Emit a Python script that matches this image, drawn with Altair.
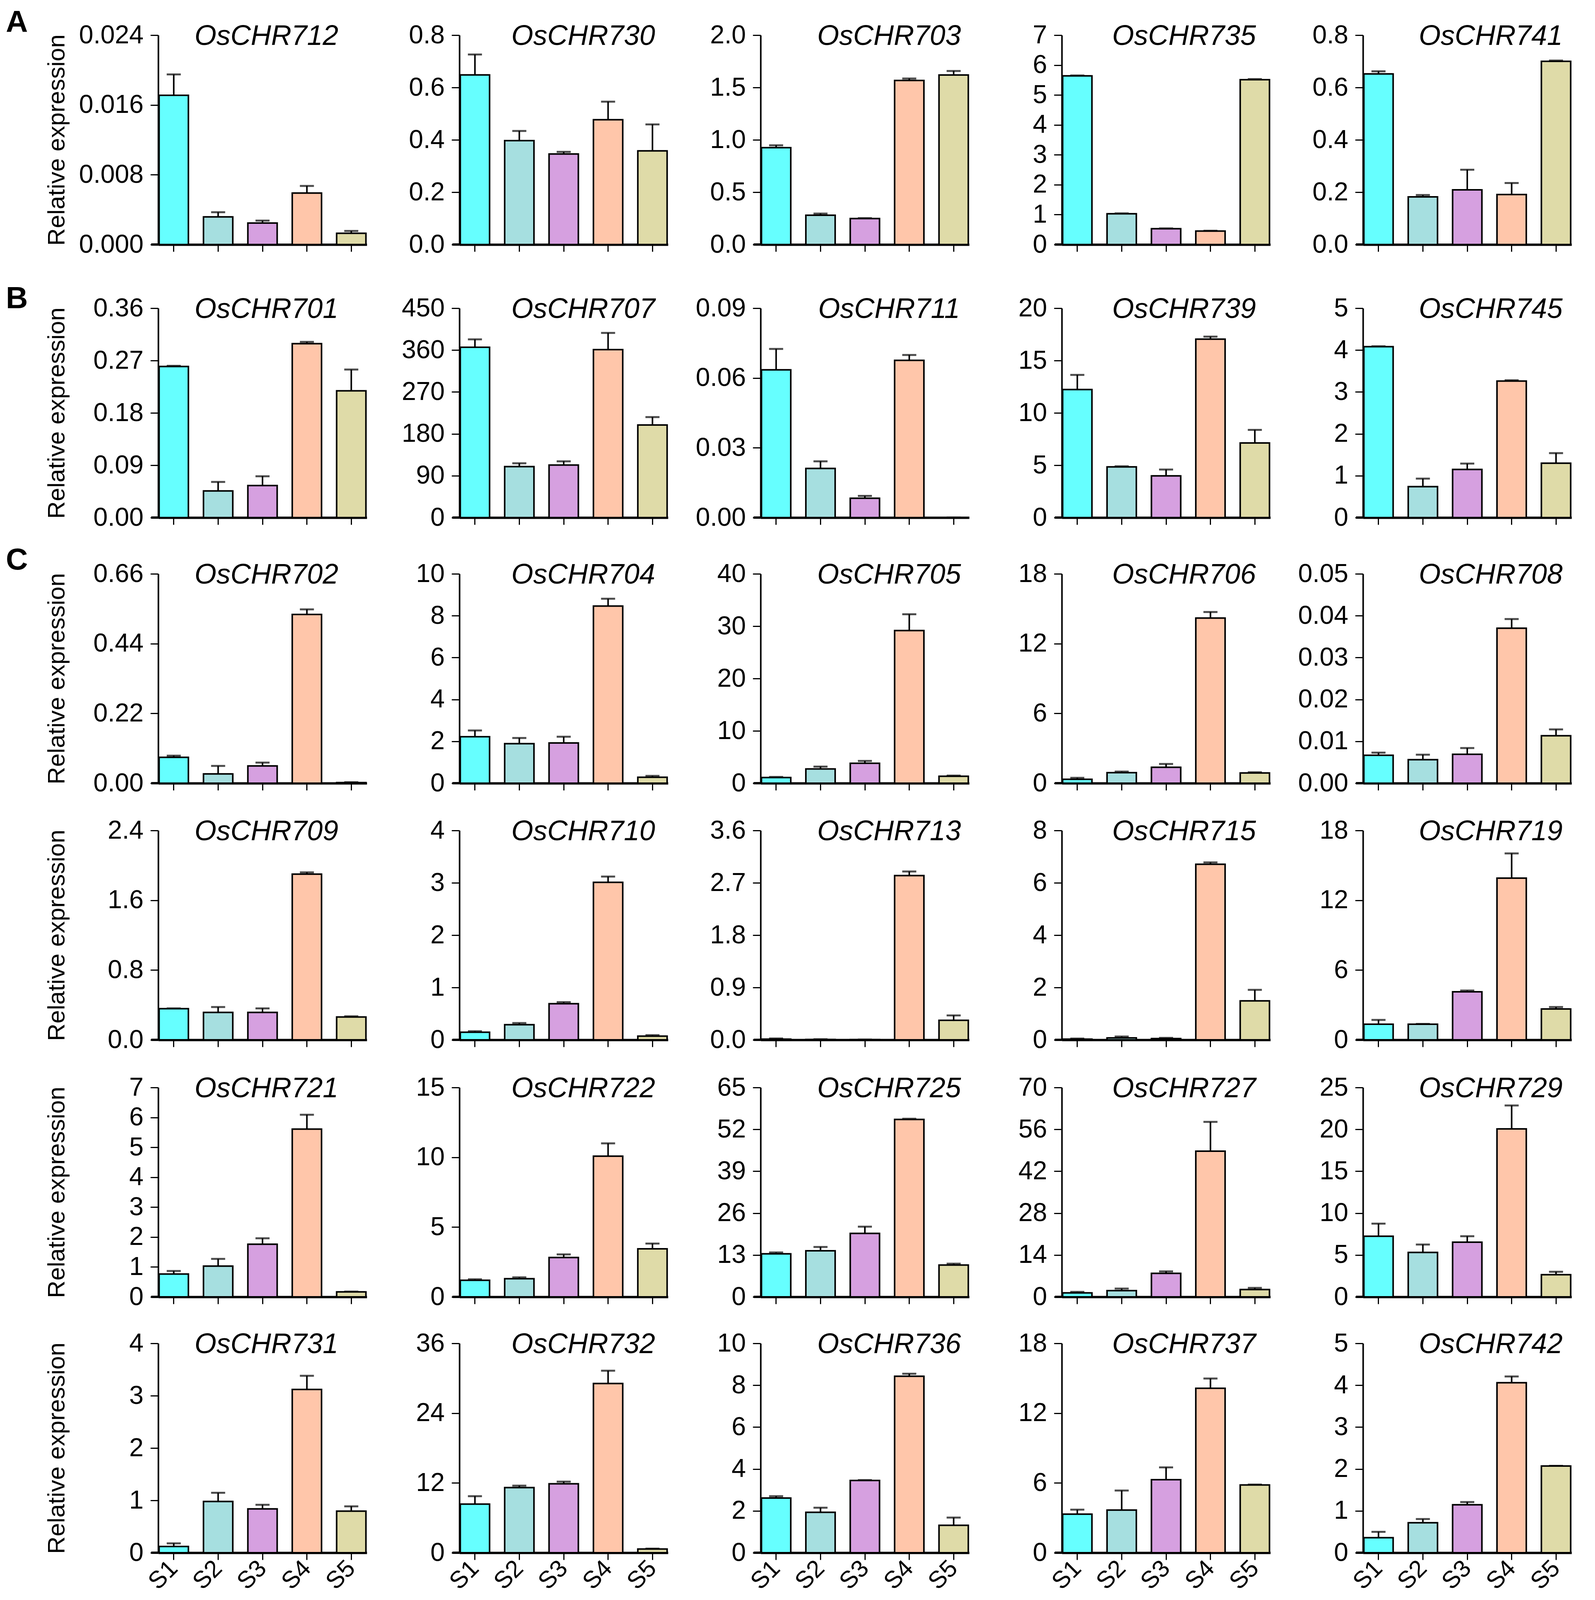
import altair as alt
import pandas as pd

samples = ["S1", "S2", "S3", "S4", "S5"]
colors = ["#66FFFF", "#A6DFE0", "#D6A0E0", "#FFC6AA", "#DFDBA8"]

row_letters = ["A", "B", "C", "", "", ""]
row_genes = [
    ["OsCHR712", "OsCHR730", "OsCHR703", "OsCHR735", "OsCHR741"],
    ["OsCHR701", "OsCHR707", "OsCHR711", "OsCHR739", "OsCHR745"],
    ["OsCHR702", "OsCHR704", "OsCHR705", "OsCHR706", "OsCHR708"],
    ["OsCHR709", "OsCHR710", "OsCHR713", "OsCHR715", "OsCHR719"],
    ["OsCHR721", "OsCHR722", "OsCHR725", "OsCHR727", "OsCHR729"],
    ["OsCHR731", "OsCHR732", "OsCHR736", "OsCHR737", "OsCHR742"],
]

# mean relative expression per sample S1..S5
means = {
    "OsCHR712": [0.0171, 0.00317, 0.00246, 0.0059, 0.00129],
    "OsCHR730": [0.648, 0.397, 0.346, 0.477, 0.358],
    "OsCHR703": [0.925, 0.28, 0.248, 1.567, 1.619],
    "OsCHR735": [5.64, 1.03, 0.53, 0.45, 5.51],
    "OsCHR741": [0.652, 0.182, 0.209, 0.191, 0.700],
    "OsCHR701": [0.2597, 0.0459, 0.055, 0.299, 0.218],
    "OsCHR707": [366, 109.6, 113, 361, 199],
    "OsCHR711": [0.0635, 0.0211, 0.0083, 0.0676, 0.0],
    "OsCHR739": [12.23, 4.84, 3.98, 17.04, 7.13],
    "OsCHR745": [4.08, 0.74, 1.15, 3.26, 1.30],
    "OsCHR702": [0.0816, 0.0293, 0.0544, 0.532, 0.002],
    "OsCHR704": [2.22, 1.89, 1.92, 8.46, 0.285],
    "OsCHR705": [1.08, 2.73, 3.80, 29.16, 1.33],
    "OsCHR706": [0.34, 0.91, 1.37, 14.2, 0.88],
    "OsCHR708": [0.00666, 0.00563, 0.0069, 0.037, 0.01133],
    "OsCHR709": [0.357, 0.315, 0.315, 1.90, 0.262],
    "OsCHR710": [0.146, 0.29, 0.69, 3.01, 0.07],
    "OsCHR713": [0.011, 0.006, 0.003, 2.825, 0.336],
    "OsCHR715": [0.025, 0.076, 0.05, 6.71, 1.49],
    "OsCHR719": [1.34, 1.34, 4.13, 13.9, 2.65],
    "OsCHR721": [0.764, 1.03, 1.76, 5.61, 0.166],
    "OsCHR722": [1.19, 1.30, 2.82, 10.08, 3.44],
    "OsCHR725": [13.37, 14.3, 19.7, 55.1, 9.87],
    "OsCHR727": [1.33, 2.1, 7.86, 48.7, 2.44],
    "OsCHR729": [7.24, 5.3, 6.53, 20.06, 2.65],
    "OsCHR731": [0.12, 0.98, 0.837, 3.12, 0.794],
    "OsCHR732": [8.37, 11.2, 11.85, 29.1, 0.64],
    "OsCHR736": [2.61, 1.93, 3.45, 8.43, 1.31],
    "OsCHR737": [3.32, 3.67, 6.28, 14.14, 5.83],
    "OsCHR742": [0.358, 0.716, 1.145, 4.06, 2.07],
}

# top of the error bar (mean + error) per sample
err_tops = {
    "OsCHR712": [0.0195, 0.00371, 0.00274, 0.00672, 0.00156],
    "OsCHR730": [0.726, 0.434, 0.354, 0.546, 0.459],
    "OsCHR703": [0.948, 0.296, 0.252, 1.586, 1.658],
    "OsCHR735": [5.65, 1.04, 0.54, 0.46, 5.53],
    "OsCHR741": [0.662, 0.189, 0.286, 0.235, 0.703],
    "OsCHR701": [0.261, 0.0613, 0.0711, 0.302, 0.2545],
    "OsCHR707": [383, 116.8, 121, 397, 216],
    "OsCHR711": [0.0725, 0.0242, 0.0093, 0.0699, 0.0],
    "OsCHR739": [13.63, 4.9, 4.59, 17.29, 8.38],
    "OsCHR745": [4.09, 0.93, 1.29, 3.28, 1.54],
    "OsCHR702": [0.0868, 0.0544, 0.0648, 0.548, 0.003],
    "OsCHR704": [2.52, 2.16, 2.22, 8.81, 0.35],
    "OsCHR705": [1.2, 3.17, 4.25, 32.27, 1.46],
    "OsCHR706": [0.46, 1.0, 1.65, 14.72, 0.94],
    "OsCHR708": [0.00729, 0.00681, 0.0084, 0.0392, 0.01284],
    "OsCHR709": [0.36, 0.376, 0.361, 1.92, 0.27],
    "OsCHR710": [0.165, 0.32, 0.72, 3.12, 0.089],
    "OsCHR713": [0.023, 0.01, 0.005, 2.894, 0.42],
    "OsCHR715": [0.05, 0.127, 0.076, 6.78, 1.91],
    "OsCHR719": [1.71, 1.37, 4.24, 16.03, 2.82],
    "OsCHR721": [0.864, 1.27, 1.96, 6.09, 0.177],
    "OsCHR722": [1.26, 1.40, 3.04, 11.0, 3.82],
    "OsCHR725": [13.78, 15.5, 21.8, 55.3, 10.3],
    "OsCHR727": [1.66, 2.77, 8.53, 58.5, 2.99],
    "OsCHR729": [8.74, 6.25, 7.24, 22.86, 3.0],
    "OsCHR731": [0.18, 1.145, 0.916, 3.38, 0.887],
    "OsCHR732": [9.72, 11.53, 12.23, 31.3, 0.7],
    "OsCHR736": [2.70, 2.15, 3.47, 8.55, 1.68],
    "OsCHR737": [3.70, 5.35, 7.34, 14.98, 5.86],
    "OsCHR742": [0.50, 0.805, 1.21, 4.21, 2.075],
}

# y axis: (maximum, tick step, decimals)
y_axis = {
    "OsCHR712": (0.024, 0.008, 3), "OsCHR730": (0.8, 0.2, 1), "OsCHR703": (2.0, 0.5, 1),
    "OsCHR735": (7, 1, 0), "OsCHR741": (0.8, 0.2, 1),
    "OsCHR701": (0.36, 0.09, 2), "OsCHR707": (450, 90, 0), "OsCHR711": (0.09, 0.03, 2),
    "OsCHR739": (20, 5, 0), "OsCHR745": (5, 1, 0),
    "OsCHR702": (0.66, 0.22, 2), "OsCHR704": (10, 2, 0), "OsCHR705": (40, 10, 0),
    "OsCHR706": (18, 6, 0), "OsCHR708": (0.05, 0.01, 2),
    "OsCHR709": (2.4, 0.8, 1), "OsCHR710": (4, 1, 0), "OsCHR713": (3.6, 0.9, 1),
    "OsCHR715": (8, 2, 0), "OsCHR719": (18, 6, 0),
    "OsCHR721": (7, 1, 0), "OsCHR722": (15, 5, 0), "OsCHR725": (65, 13, 0),
    "OsCHR727": (70, 14, 0), "OsCHR729": (25, 5, 0),
    "OsCHR731": (4, 1, 0), "OsCHR732": (36, 12, 0), "OsCHR736": (10, 2, 0),
    "OsCHR737": (18, 6, 0), "OsCHR742": (5, 1, 0),
}

# layout constants
W, H = 534, 536
FONT = "Liberation Sans"
COL_SPACING = 237
ROW_SPACING = 10
LEFT_EXT = 392
row_top_ext = [60, 120, 101, 78, 79, 76]
letter_y = [-8, 0, -11, 0, 0, 0]
title_dx = [10, 50, 62, 46, 60]


def panel(gene, col, row):
    bottom = row == len(row_genes) - 1
    df = pd.DataFrame({"sample": samples, "mean": means[gene], "top": err_tops[gene]})
    ymax, step, dec = y_axis[gene]
    n = int(round(ymax / step))
    ticks = [round(i * step, dec + 3) for i in range(n + 1)]

    x = alt.X(
        "sample:N",
        sort=samples,
        scale=alt.Scale(paddingInner=0.34, paddingOuter=0.02),
        axis=alt.Axis(
            title=None,
            labels=bottom,
            labelAngle=-45,
            labelAlign="right",
            labelBaseline="middle",
            labelPadding=12,
            labelFontSize=62,
            tickSize=18,
            tickWidth=3,
            domainWidth=6,
        ),
    )
    yaxis = dict(
        values=ticks,
        format=f".{dec}f",
        tickSize=20,
        tickWidth=3,
        domainWidth=4,
        labelPadding=18,
        minExtent=205,
        maxExtent=205,
        titlePadding=23,
    )
    yaxis["title"] = "Relative expression" if col == 0 else None
    y = alt.Y("mean:Q", scale=alt.Scale(domain=[0, ymax], nice=False, zero=True), axis=alt.Axis(**yaxis))

    base = alt.Chart(df)
    bars = base.mark_bar(stroke="black", strokeWidth=4).encode(
        x=x,
        y=y,
        color=alt.Color("sample:N", scale=alt.Scale(domain=samples, range=colors), legend=None),
    )
    mean_line = base.mark_tick(color="black", thickness=3, size=72).encode(x=x, y="mean:Q")
    err = base.mark_rule(color="black", strokeWidth=4).encode(x=x, y="mean:Q", y2="top:Q")
    cap = base.mark_tick(color="black", thickness=5, size=36).encode(x=x, y="top:Q")

    one = pd.DataFrame({"t": [gene]})
    title = alt.Chart(one).mark_text(
        font=FONT, fontSize=72, fontStyle="italic", align="center", baseline="alphabetic", color="black"
    ).encode(x=alt.value(W / 2 + title_dx[col]), y=alt.value(25), text="t:N")
    ext = alt.Chart(one).mark_rule(color="black", strokeWidth=6).encode(
        x=alt.value(-18), x2=alt.value(0), y=alt.value(H)
    )
    layers = [bars, mean_line, err, cap, ext, title]
    if col == 0:
        spacer = alt.Chart(one).mark_rule(strokeOpacity=0, color="white", strokeWidth=1).encode(
            x=alt.value(-LEFT_EXT), x2=alt.value(-LEFT_EXT),
            y=alt.value(-row_top_ext[row]), y2=alt.value(0),
        )
        layers.append(spacer)
        if row_letters[row]:
            letter = alt.Chart(pd.DataFrame({"t": [row_letters[row]]})).mark_text(
                font=FONT, fontSize=78, fontWeight="bold", align="left", baseline="alphabetic", color="black"
            ).encode(x=alt.value(-LEFT_EXT + 2), y=alt.value(letter_y[row]), text="t:N")
            layers.append(letter)
    return alt.layer(*layers).properties(width=W, height=H)


rows = []
for r, genes in enumerate(row_genes):
    rows.append(alt.hconcat(*[panel(g, c, r) for c, g in enumerate(genes)], spacing=COL_SPACING, bounds="flush"))

chart = (
    alt.vconcat(*rows, spacing=ROW_SPACING)
    .properties(padding={"left": 5, "top": 12, "right": 5, "bottom": 0}, background="white")
    .configure_view(stroke=None)
    .configure_axis(
        grid=False,
        domainColor="black",
        tickColor="black",
        labelColor="black",
        titleColor="black",
        labelFont=FONT,
        titleFont=FONT,
        labelFontSize=66,
        titleFontSize=62,
        titleFontWeight="normal",
        labelOverlap=False,
        labelFlush=False,
    )
)

chart.save("out.html", embed_options={"renderer": "svg", "actions": False})
